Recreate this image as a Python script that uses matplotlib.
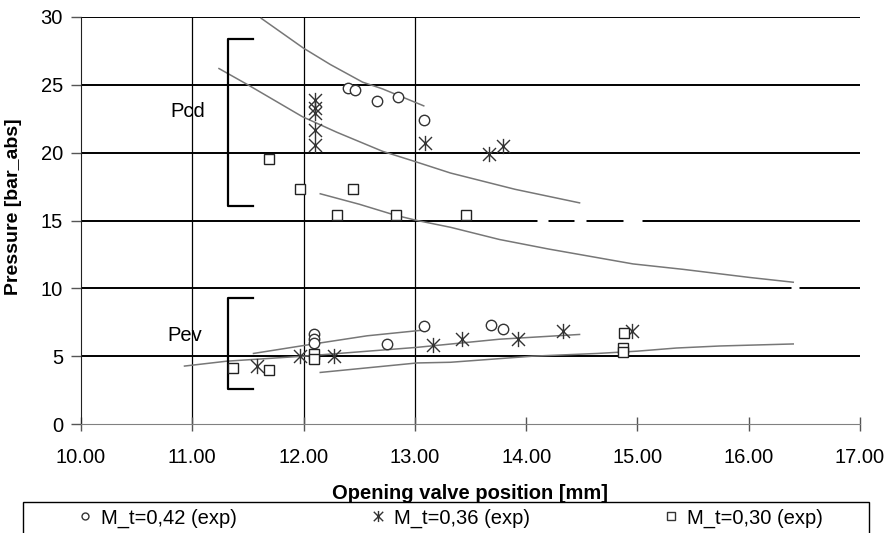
import numpy as np
import matplotlib
matplotlib.use('Agg')
import matplotlib.pyplot as plt
from matplotlib.patches import Rectangle
from matplotlib.lines import Line2D
from matplotlib.path import Path

plt.rcParams['font.family'] = ['Liberation Sans', 'DejaVu Sans']

# --- dane ---
# punkty pomiarowe M_t=0,42
c42_pcd_x = [12.40, 12.46, 12.66, 12.85, 13.08]
c42_pcd_y = [24.8, 24.6, 23.8, 24.1, 22.4]
c42_pev_x = [12.09, 12.09, 12.09, 12.75, 13.08, 13.68, 13.79]
c42_pev_y = [6.6, 6.25, 6.0, 5.9, 7.2, 7.3, 7.0]

# punkty pomiarowe M_t=0,36
s36_pcd_x = [12.1, 12.1, 12.1, 12.1, 12.1, 13.09, 13.67, 13.79]
s36_pcd_y = [23.9, 23.3, 22.9, 21.7, 20.6, 20.7, 19.9, 20.5]
s36_pev_x = [11.58, 11.97, 12.27, 13.16, 13.42, 13.93, 14.33, 14.95]
s36_pev_y = [4.3, 5.0, 5.0, 5.8, 6.3, 6.3, 6.85, 6.85]

# punkty pomiarowe M_t=0,30
q30_pcd_x = [11.69, 11.97, 12.44, 12.30, 12.83, 13.46]
q30_pcd_y = [19.5, 17.35, 17.35, 15.4, 15.4, 15.4]
q30_pev_x = [11.37, 11.69, 12.09, 12.09, 14.88, 14.87, 14.87]
q30_pev_y = [4.1, 4.0, 5.15, 4.8, 6.7, 5.6, 5.3]

# krzywe (model)
f42_pcd_x = [11.62, 12.0, 12.24, 12.53, 12.71, 13.08]
f42_pcd_y = [29.9, 27.7, 26.5, 25.2, 24.7, 23.45]
f36_pcd_x = [11.24, 11.5, 11.99, 12.3, 12.71, 13.0, 13.32, 13.9, 14.48]
f36_pcd_y = [26.2, 25.0, 22.65, 21.5, 20.1, 19.35, 18.5, 17.3, 16.3]
f30_pcd_x = [12.15, 12.5, 12.82, 13.02, 13.32, 13.76, 14.2, 14.96, 15.41, 16.01, 16.4]
f30_pcd_y = [16.97, 16.2, 15.4, 15.0, 14.5, 13.6, 12.9, 11.8, 11.4, 10.8, 10.45]

f42_pev_x = [11.55, 12.09, 12.57, 13.05]
f42_pev_y = [5.2, 5.9, 6.5, 6.9]
f36_pev_x = [10.93, 11.31, 12.0, 13.02, 13.76, 14.48]
f36_pev_y = [4.27, 4.63, 5.0, 5.65, 6.25, 6.6]
f30_pev_x = [12.15, 13.02, 13.32, 14.06, 14.64, 15.0, 15.35, 15.74, 16.4]
f30_pev_y = [3.8, 4.5, 4.55, 5.0, 5.2, 5.37, 5.6, 5.75, 5.9]

# białe przerwy na liniach siatki (jak w oryginale)
gap_y = [15, 15, 15, 10]
gap_x0 = [14.10, 14.43, 14.87, 16.38]
gap_x1 = [14.20, 14.54, 15.04, 16.45]

# nawiasy Pcd / Pev
bracket_x = [11.55, 11.32, 11.32, 11.55]
pcd_bracket_y = [28.4, 28.4, 16.1, 16.1]
pev_bracket_y = [9.3, 9.3, 2.55, 2.55]

vlines_x = [11, 12, 13]
x_ticks = [10, 11, 12, 13, 14, 15, 16, 17]
y_ticks = [0, 5, 10, 15, 20, 25, 30]

legend_labels = ['M_t=0,42 (exp)', 'M_t=0,36 (exp)', 'M_t=0,30 (exp)']

# znacznik gwiazdki: X + pionowa kreska
star = Path([(0, -1), (0, 1), (-0.85, -0.85), (0.85, 0.85), (-0.85, 0.85), (0.85, -0.85)],
            [Path.MOVETO, Path.LINETO, Path.MOVETO, Path.LINETO, Path.MOVETO, Path.LINETO])

# --- wykres ---
fig = plt.figure(figsize=(8.92, 5.33), dpi=100)
ax = fig.add_axes([81 / 892, 1 - 424 / 533, 779 / 892, 407 / 533])

for yv in y_ticks[1:]:
    ax.axhline(yv, color='black', lw=1.4, zorder=1)
for xv in vlines_x:
    ax.axvline(xv, color='black', lw=0.9, zorder=1)
for gy, g0, g1 in zip(gap_y, gap_x0, gap_x1):
    ax.plot([g0, g1], [gy, gy], color='white', lw=2.5, solid_capstyle='butt', zorder=1.5)

fit_kw = dict(color='#777777', lw=1.1, zorder=2)
for fx, fy in [(f42_pcd_x, f42_pcd_y), (f36_pcd_x, f36_pcd_y), (f30_pcd_x, f30_pcd_y),
               (f42_pev_x, f42_pev_y), (f36_pev_x, f36_pev_y), (f30_pev_x, f30_pev_y)]:
    ax.plot(fx, fy, **fit_kw)

ax.plot(bracket_x, pcd_bracket_y, color='black', lw=1.6, zorder=3)
ax.plot(bracket_x, pev_bracket_y, color='black', lw=1.6, zorder=3)
ax.text(10.8, 23.0, 'Pcd', fontsize=14.5, va='center', ha='left')
ax.text(10.78, 6.5, 'Pev', fontsize=14.5, va='center', ha='left')

mk_c = dict(marker='o', ms=7.5, mfc='white', mec='#333333', mew=1.0, ls='none', zorder=4)
mk_s = dict(marker=star, ms=11, mec='#333333', mew=1.0, ls='none', zorder=4)
mk_q = dict(marker='s', ms=7.5, mfc='white', mec='#222222', mew=1.0, ls='none', zorder=4)

ax.plot(c42_pcd_x, c42_pcd_y, **mk_c)
ax.plot(c42_pev_x, c42_pev_y, **mk_c)
ax.plot(s36_pcd_x, s36_pcd_y, **mk_s)
ax.plot(s36_pev_x, s36_pev_y, **mk_s)
ax.plot(q30_pcd_x, q30_pcd_y, **mk_q)
ax.plot(q30_pev_x, q30_pev_y, **mk_q)

ax.set_xlim(10, 17)
ax.set_ylim(0, 30)
ax.set_xticks(x_ticks)
ax.set_xticklabels(['%.2f' % v for v in x_ticks])
ax.set_yticks(y_ticks)

for s in ['top', 'right']:
    ax.spines[s].set_visible(False)
ax.spines['left'].set_color('#222222')
ax.spines['bottom'].set_color('#808080')
ax.tick_params(axis='x', direction='inout', length=10, width=1, color='#555555',
               labelsize=14.5, pad=12)
ax.tick_params(axis='y', direction='out', length=7, width=1, color='#555555',
               labelsize=14.5, pad=6)

ax.set_ylabel('Pressure [bar_abs]', fontsize=14, fontweight='bold')
ax.yaxis.set_label_coords(-0.0757, 0.533)
ax.set_xlabel('Opening valve position [mm]', fontsize=14.5, fontweight='bold')
ax.xaxis.set_label_coords(0.5, -0.148)

# legenda w ramce przyciętej dolną krawędzią
fig.patches.append(Rectangle((23 / 892, -0.05), 846 / 892, (533 - 502) / 533 + 0.05,
                             transform=fig.transFigure, fill=False, ec='black', lw=1))
handles = [
    Line2D([], [], marker='o', ms=5, mfc='white', mec='#333333', ls='none'),
    Line2D([], [], marker=star, ms=8, mec='#333333', ls='none'),
    Line2D([], [], marker='s', ms=5.5, mfc='white', mec='#333333', ls='none'),
]
fig.legend(handles, legend_labels, loc='center', bbox_to_anchor=(450 / 892, 1 - 518 / 533),
           ncol=3, frameon=False, fontsize=14.5, handlelength=0.8, handletextpad=0.4,
           columnspacing=6.6, borderpad=0)

fig.savefig('out.png', dpi=100)
